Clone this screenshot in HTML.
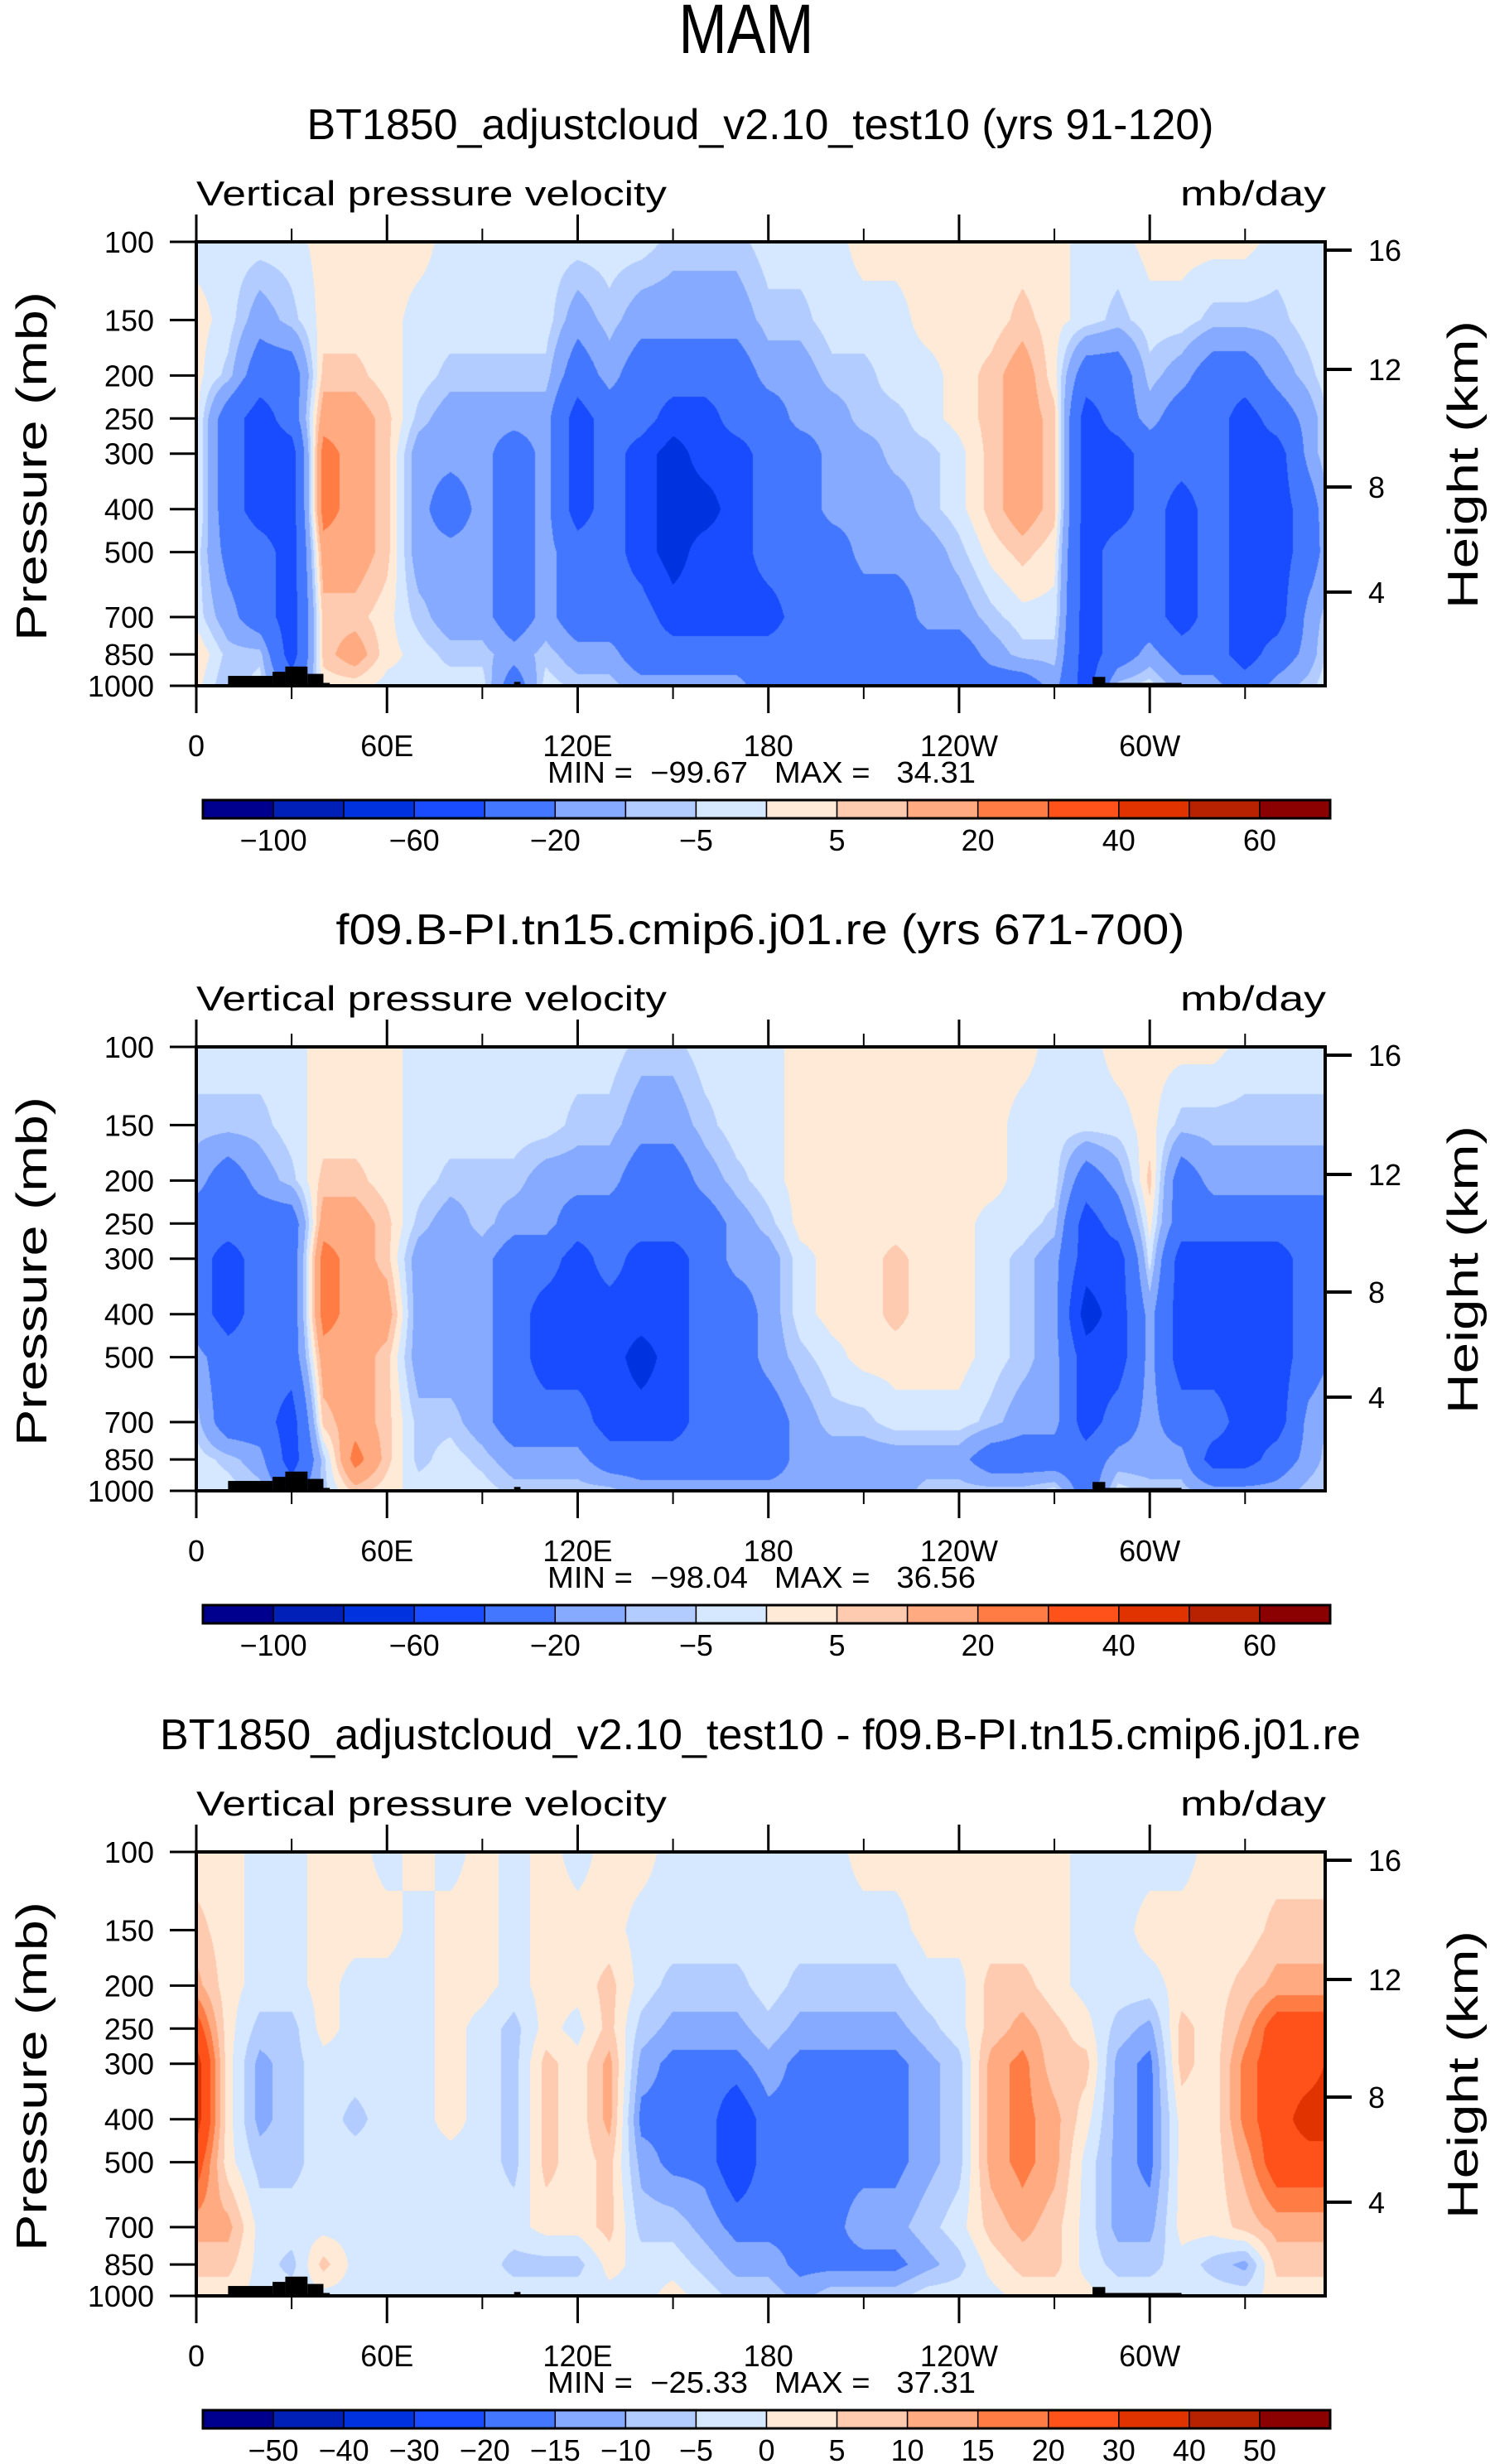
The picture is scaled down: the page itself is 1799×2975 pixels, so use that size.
<!DOCTYPE html>
<html><head><meta charset="utf-8">
<style>
html,body{margin:0;padding:0;background:#fff;}
#wrap{position:relative;width:1799px;height:2975px;overflow:hidden;background:#fff;}
canvas{position:absolute;left:0;top:0;}
svg{position:absolute;left:0;top:0;}
text{font-family:"Liberation Sans",sans-serif;fill:#000;}
.pre{white-space:pre;}
</style></head>
<body>
<div id="wrap">
<canvas id="cv" width="1799" height="2975"></canvas>
<svg id="sv" width="1799" height="2975" xmlns="http://www.w3.org/2000/svg"></svg>
</div>
<script>
// ---- data ----
const lons = [0,10,20,30,40,50,60,70,80,90,100,110,120,130,140,150,160,170,180,190,200,210,220,230,240,250,260,270,280,290,300,310,320,330,340,350];
const plevs = [100,150,200,250,300,400,500,700,850,1000];
const field1 = [
[-2,2,2,2,2,2,-2,-2,5,2],
[-2,-2,-7,-30,-30,-30,-25,-15,-7,-10],
[-2,-15,-30,-50,-50,-50,-30,-30,-7,-2],
[-2,-7,-30,-30,-50,-50,-50,-50,-50,-30],
[2,2,7,15,25,25,15,7,7,2],
[2,2,7,15,15,15,15,7,15,2],
[2,2,2,7,7,7,7,2,2,-2],
[2,-2,-2,-7,-15,-15,-15,-7,-2,-2],
[-2,-2,-7,-15,-15,-30,-15,-15,-7,-2],
[-2,-2,-7,-15,-15,-15,-15,-15,-7,-2],
[-2,-2,-7,-15,-30,-30,-30,-30,-15,-30],
[-2,-2,-7,-15,-15,-15,-15,-15,-7,-2],
[-2,-15,-30,-50,-50,-50,-30,-30,-15,-7],
[-2,-7,-15,-30,-30,-30,-30,-30,-15,-7],
[-2,-15,-30,-30,-50,-50,-50,-30,-30,-15],
[-7,-15,-30,-50,-70,-70,-70,-50,-30,-15],
[-7,-15,-30,-50,-50,-70,-50,-50,-30,-15],
[-7,-15,-30,-30,-50,-50,-50,-50,-30,-15],
[-2,-7,-15,-30,-30,-30,-30,-50,-30,-30],
[-2,-7,-15,-15,-30,-30,-30,-30,-30,-30],
[-2,-2,-7,-15,-15,-15,-30,-30,-30,-30],
[2,-2,-7,-7,-15,-15,-15,-30,-30,-30],
[2,-2,-2,-7,-7,-15,-15,-30,-30,-30],
[2,2,-2,-2,-7,-7,-15,-15,-30,-30],
[2,2,2,2,-2,-2,-7,-15,-30,-30],
[2,2,7,7,7,7,2,-7,-15,-30],
[2,7,15,15,15,15,7,-2,-7,-30],
[2,2,2,7,7,7,2,-2,-7,-15],
[-2,-2,-30,-50,-50,-50,-50,-50,-50,-50],
[-2,-7,-30,-30,-50,-50,-30,-30,-30,-7],
[2,-2,-7,-15,-30,-30,-30,-30,-15,-2],
[2,-2,-15,-30,-30,-50,-50,-50,-30,-15],
[2,-7,-30,-30,-30,-30,-30,-30,-30,-15],
[2,-7,-30,-50,-50,-50,-50,-50,-50,-30],
[-2,-7,-15,-30,-50,-50,-50,-50,-30,-15],
[-2,-2,-7,-15,-15,-30,-30,-15,-15,-7]
];
const field2 = [
[-2,-7,-15,-30,-30,-30,-15,-7,-2,-2],
[-2,-7,-30,-30,-50,-50,-30,-30,-7,-2],
[-2,-7,-15,-30,-30,-30,-30,-30,-15,-7],
[-2,-2,-7,-30,-30,-30,-30,-50,-50,-30],
[2,2,7,15,25,25,15,7,-7,-7],
[2,2,7,15,15,15,15,15,25,7],
[2,2,2,7,7,15,7,7,7,2],
[-2,-2,-2,-7,-15,-15,-15,-7,-7,-2],
[-2,-2,-7,-15,-15,-15,-15,-7,-2,-2],
[-2,-2,-7,-7,-15,-15,-15,-15,-7,-2],
[-2,-2,-7,-15,-30,-30,-30,-30,-15,-7],
[-2,-2,-15,-15,-30,-50,-50,-30,-15,-7],
[-2,-7,-15,-30,-50,-50,-50,-30,-15,-7],
[-2,-7,-15,-30,-30,-50,-50,-50,-30,-7],
[-7,-15,-30,-30,-50,-50,-70,-50,-30,-15],
[-7,-15,-30,-30,-50,-50,-50,-50,-30,-15],
[-2,-7,-15,-30,-30,-30,-30,-30,-30,-15],
[-2,-2,-7,-15,-15,-30,-30,-30,-30,-15],
[-2,-2,-2,-7,-15,-15,-15,-30,-30,-15],
[2,2,2,2,-2,-2,-7,-15,-15,-15],
[2,2,2,2,2,2,-2,-7,-15,-15],
[2,2,2,2,2,2,2,-7,-15,-15],
[2,2,2,2,7,7,2,-2,-15,-15],
[2,2,2,2,2,2,2,-2,-15,-7],
[2,2,2,2,2,2,2,-2,-15,-7],
[2,2,2,-2,-2,-2,-2,-7,-30,-7],
[2,-2,-2,-2,-7,-7,-7,-15,-30,-7],
[-2,-2,-2,-7,-15,-15,-15,-15,-30,-2],
[-2,-2,-30,-50,-50,-70,-50,-50,-30,-30],
[2,-2,-15,-30,-50,-50,-50,-30,-15,-2],
[2,2,7,2,-2,-15,-15,-15,-15,-7],
[2,-7,-30,-30,-50,-50,-50,-30,-15,-7],
[2,-7,-15,-30,-50,-50,-50,-30,-50,-15],
[-2,-7,-15,-30,-50,-50,-50,-50,-50,-15],
[-2,-7,-15,-30,-50,-50,-50,-50,-30,-15],
[-2,-7,-15,-30,-30,-30,-30,-15,-15,-7]
];
const field3 = [
[2,7,12,25,35,35,25,12,7,2],
[2,2,2,2,2,2,2,12,7,2],
[-2,-2,-2,-7,-12,-12,-7,-2,-2,-2],
[-2,-2,-2,-7,-7,-7,-7,-2,-7,-2],
[2,2,2,2,-2,-2,-2,-2,7,-2],
[2,2,-2,-2,-2,-7,-2,-2,-2,-2],
[-2,2,-2,-2,-2,-2,-2,-2,-2,-2],
[2,-2,-2,-2,-2,-2,-2,-2,-2,-2],
[-2,2,2,2,2,2,-2,-2,-2,-2],
[2,2,2,-2,-2,-2,-2,-2,-2,-2],
[-2,-2,-2,-7,-7,-7,-7,-2,-7,-2],
[2,2,2,2,7,7,7,2,-7,-2],
[-2,2,2,-2,2,2,2,2,-7,-2],
[2,2,7,7,12,12,7,7,2,-2],
[2,-2,-2,-7,-12,-17,-12,-7,-2,-2],
[-2,-2,-7,-12,-17,-17,-17,-7,-2,2],
[-2,-2,-7,-12,-17,-17,-17,-12,-7,-2],
[-2,-2,-7,-12,-17,-25,-25,-17,-12,-7],
[-2,-2,-2,-7,-12,-17,-17,-17,-12,-7],
[-2,-2,-7,-12,-17,-17,-17,-17,-17,-12],
[-2,-2,-7,-12,-17,-17,-17,-17,-17,-7],
[2,-2,-7,-12,-17,-17,-17,-12,-17,-7],
[2,-2,-7,-12,-17,-17,-17,-12,-17,-7],
[2,2,-2,-7,-12,-12,-12,-7,-12,-2],
[2,2,-2,-2,-7,-7,-7,-2,-7,-2],
[2,2,7,7,12,12,12,7,2,-2],
[2,2,7,12,17,17,17,12,7,2],
[2,2,2,7,7,12,12,7,7,2],
[-2,-2,-2,2,7,2,-2,-2,-2,2],
[-2,-2,-2,-7,-12,-12,-12,-12,-7,-2],
[-2,2,-2,-12,-17,-17,-17,-12,-7,-2],
[-2,2,2,7,7,2,2,2,-2,-2],
[2,2,2,2,2,2,2,2,-7,-2],
[2,2,7,12,17,17,12,7,-12,-2],
[2,7,12,25,25,25,25,12,7,2],
[2,7,12,25,25,35,25,12,7,2]
];
const levels12 = [-100,-80,-60,-40,-20,-10,-5,0,5,10,20,30,40,50,60];
const cbLabels12 = ["−100","","−60","","−20","","−5","","5","","20","","40","","60"];
const levels3 = [-50,-40,-30,-20,-15,-10,-5,0,5,10,15,20,30,40,50];
const cbLabels3 = ["−50","−40","−30","−20","−15","−10","−5","0","5","10","15","20","30","40","50"];
const colors = ["#00008F","#0020B8","#0033E0","#1A4CFF","#4477FF","#85AAFF","#B3CCFF","#D5E8FF","#FFEAD8","#FFCBB0","#FFAA80","#FF7C45","#FF511A","#E03300","#B82200","#8B0000"];
const titles = ["BT1850_adjustcloud_v2.10_test10 (yrs 91-120)","f09.B-PI.tn15.cmip6.j01.re (yrs 671-700)","BT1850_adjustcloud_v2.10_test10 - f09.B-PI.tn15.cmip6.j01.re"];
const minmax = ["MIN =  −99.67   MAX =   34.31","MIN =  −98.04   MAX =   36.56","MIN =  −25.33   MAX =   37.31"];
const lonTicks = [0,60,120,180,240,300];
const lonTickLabels = ["0","60E","120E","180","120W","60W"];
const lonMinor = [30,90,150,210,270,330];
const pTicks = [100,150,200,250,300,400,500,700,850,1000];
const heightKm = [16,12,8,4];
const heightP = [104.4,193.8,356.6,615];
const topoStart = [10,24,28,35,40,100,282,286];
const topoEnd   = [24,28,35,40,42,102,286,310];
const topoTopP  = [950,930,905,940,985,980,955,985];

// ---- geometry ----
const X0=237, X1=1600, LONMAX=355.2, PH=536, PANEL_DY=972, TOP0=292;
const fields=[field1,field2,field3];
const levelSets=[levels12,levels12,levels3];
const cbLabelSets=[cbLabels12,cbLabels12,cbLabels3];
function xOf(lon){return X0+(lon/LONMAX)*(X1-X0);}
function yOf(p,top){return top+Math.log10(p/100)*PH;}

const cv=document.getElementById('cv');
const ctx=cv.getContext('2d');
function hexRgb(h){return [parseInt(h.substr(1,2),16),parseInt(h.substr(3,2),16),parseInt(h.substr(5,2),16)];}
const rgb=colors.map(hexRgb);
const logp=plevs.map(p=>Math.log10(p/100));
for(let k=0;k<3;k++){
  const top=TOP0+k*PANEL_DY;
  const f=fields[k], lv=levelSets[k];
  const w=X1-X0, h=PH;
  const img=ctx.createImageData(w,h);
  for(let j=0;j<h;j++){
    const lp=(j+0.5)/PH;
    let r=0; while(r<logp.length-2 && logp[r+1]<lp) r++;
    let ty=(lp-logp[r])/(logp[r+1]-logp[r]); ty=Math.max(0,Math.min(1,ty));
    for(let i=0;i<w;i++){
      const lon=(i+0.5)/w*LONMAX;
      const c=Math.floor(lon/10); const tx=(lon-c*10)/10;
      const c2=(c+1)%lons.length;
      const a=f[c][r]*(1-ty)+f[c][r+1]*ty;
      const b=f[c2][r]*(1-ty)+f[c2][r+1]*ty;
      const v=a*(1-tx)+b*tx;
      let idx=0; while(idx<lv.length && v>=lv[idx]) idx++;
      const col=rgb[idx]; const o=(j*w+i)*4;
      img.data[o]=col[0];img.data[o+1]=col[1];img.data[o+2]=col[2];img.data[o+3]=255;
    }
  }
  ctx.putImageData(img,X0,top);
}

const NS='http://www.w3.org/2000/svg';
const sv=document.getElementById('sv');
function el(tag,attrs,parent){const e=document.createElementNS(NS,tag);for(const a in attrs)e.setAttribute(a,attrs[a]);(parent||sv).appendChild(e);return e;}
function txt(s,attrs,parent){const e=el('text',attrs,parent);e.textContent=s;return e;}

const mam=txt('MAM',{x:901,y:64,'font-size':84,'text-anchor':'middle',textLength:163,lengthAdjust:'spacingAndGlyphs'});



for(let k=0;k<3;k++){
  const dy=k*PANEL_DY, top=TOP0+dy, bot=top+PH;
  const g=el('g',{});
  
  
  const t=txt(titles[k],{x:918,y:168+dy,'font-size':52,'text-anchor':'middle',textLength:(k==2?1450:(k==1?1025:1095)),lengthAdjust:'spacingAndGlyphs'},g);
  
  
  const vl=txt('Vertical pressure velocity',{x:237,y:248+dy,'font-size':42,textLength:568,lengthAdjust:'spacingAndGlyphs'},g);
  
  
  const ul=txt('mb/day',{x:1601,y:248+dy,'font-size':42,'text-anchor':'end',textLength:176,lengthAdjust:'spacingAndGlyphs'},g);
  
  
  for(let i=0;i<topoStart.length;i++){
    const x=xOf(topoStart[i]), y=yOf(topoTopP[i],top);
    const r=el('rect',{x:x,y:y,width:xOf(topoEnd[i])-x,height:bot-y,fill:'#000'},g);
    
    
  }
  const fr=el('rect',{x:X0,y:top,width:X1-X0,height:PH,fill:'none',stroke:'#000','stroke-width':4},g);
  
  
  lonTicks.forEach((lon,i)=>{
    const x=xOf(lon);
    el('line',{x1:x,y1:bot,x2:x,y2:bot+33,stroke:'#000','stroke-width':3},g);
    el('line',{x1:x,y1:top,x2:x,y2:top-33,stroke:'#000','stroke-width':3},g);
    const l=txt(lonTickLabels[i],{x:x,y:913+dy,'font-size':36,'text-anchor':'middle'},g);
    
    
  });
  lonMinor.forEach(lon=>{
    const x=xOf(lon);
    el('line',{x1:x,y1:bot,x2:x,y2:bot+16,stroke:'#000','stroke-width':2},g);
    el('line',{x1:x,y1:top,x2:x,y2:top-16,stroke:'#000','stroke-width':2},g);
  });
  pTicks.forEach(p=>{
    const y=yOf(p,top);
    el('line',{x1:X0-32,y1:y,x2:X0,y2:y,stroke:'#000','stroke-width':3},g);
    const l=txt(String(p),{x:186,y:y+13,'font-size':36,'text-anchor':'end'},g);
    
    
  });
  heightKm.forEach((z,i)=>{
    const y=yOf(heightP[i],top);
    el('line',{x1:X1,y1:y,x2:X1+32,y2:y,stroke:'#000','stroke-width':4},g);
    const l=txt(String(z),{x:1652,y:y+13,'font-size':36},g);
    
    
  });
  const yl=txt('Pressure  (mb)',{x:0,y:0,'font-size':52,'text-anchor':'middle',textLength:422,lengthAdjust:'spacingAndGlyphs',transform:'translate(56,'+(563+dy)+') rotate(-90)'},g);
  
  
  const hl=txt('Height  (km)',{x:0,y:0,'font-size':52,'text-anchor':'middle',textLength:348,lengthAdjust:'spacingAndGlyphs',transform:'translate(1784,'+(561+dy)+') rotate(-90)'},g);
  
  
  const mm=txt(minmax[k],{x:661,y:945+dy,'font-size':36,textLength:517,lengthAdjust:'spacingAndGlyphs',class:'pre','xml:space':'preserve'},g);
  
  
  const cb=el('g',{},g);
  
  
  const cbx0=245,cbx1=1606,cby=966+dy,cbh=22,bw=(cbx1-cbx0)/colors.length;
  colors.forEach((c,i)=>{
    const r=el('rect',{x:cbx0+i*bw,y:cby,width:bw,height:cbh,fill:c,stroke:'#000','stroke-width':1.5},cb);
    
    
  });
  el('rect',{x:cbx0,y:cby,width:cbx1-cbx0,height:cbh,fill:'none',stroke:'#000','stroke-width':3},cb);
  cbLabelSets[k].forEach((s,i)=>{
    if(!s) return;
    const l=txt(s,{x:cbx0+(i+1)*bw,y:1027+dy,'font-size':36,'text-anchor':'middle'},cb);
    
    
  });
}
</script>
</body></html>
